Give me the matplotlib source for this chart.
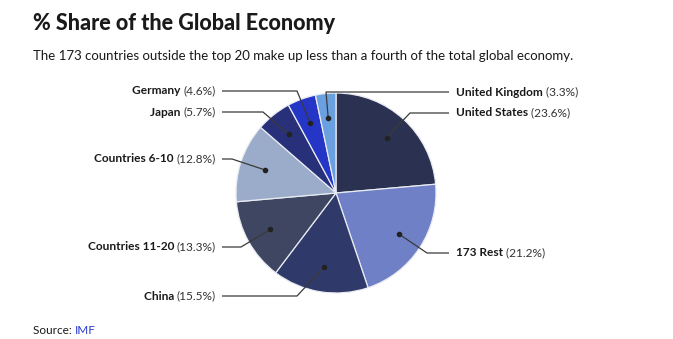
"""
plot.py

Pie chart of the share of the global economy by country group.
"""

# ========== Imports ==========
import numpy as np
import matplotlib
matplotlib.use("Agg")
import matplotlib.pyplot as plt
from matplotlib.transforms import offset_copy

# ========== Data ==========
names = ["United States", "173 Rest", "China", "Countries 11-20",
         "Countries 6-10", "Japan", "Germany", "United Kingdom"]
shares = [23.6, 21.2, 15.5, 13.3, 12.8, 5.7, 4.6, 3.3]
colors = ["#2b3150", "#6f80c6", "#2f3a6a", "#3f4662",
          "#9aacc9", "#283079", "#2535c6", "#6aa0e0"]

# label layout: (label y, elbow x) in pie units (radius = 1), side
label_y = [0.80, -0.60, -1.03, -0.54, 0.34, 0.81, 1.02, 1.01]
elbow_x = [0.74, 0.91, -0.39, -0.95, -1.04, -0.73, -0.39, -0.10]
side = ["right", "right", "left", "left", "left", "left", "left", "right"]

# ========== Figure ==========
fig = plt.figure(figsize=(6.73, 3.39), dpi=100)
ax = fig.add_axes([0, 0, 1, 1])

ax.pie(shares, colors=colors, startangle=90, counterclock=False,
       radius=1, center=(0, 0),
       wedgeprops=dict(edgecolor="#e8ebf2", linewidth=0.9))

ax.set_xlim(-3.36, 3.37)
ax.set_ylim(-1.46, 1.93)
ax.set_aspect("equal")
ax.axis("off")

font = "Lato"
fig.text(33 / 673, 1 - 30 / 339, "% Share of the Global Economy",
         fontsize=15.5, fontweight=900, family=font, color="#1a1a1a")
fig.text(33 / 673, 1 - 60 / 339,
         "The 173 countries outside the top 20 make up less than a fourth of the total global economy.",
         fontsize=9.5, family=font, color="#1a1a1a")

src = fig.text(33 / 673, 1 - 334 / 339, "Source: ", fontsize=8.5,
               family=font, color="#1a1a1a")

fig.canvas.draw()
renderer = fig.canvas.get_renderer()
w = src.get_window_extent(renderer).width
fig.text(33 / 673, 1 - 334 / 339, "IMF", fontsize=8.5, family=font,
         color="#2a3bd0",
         transform=offset_copy(fig.transFigure, fig=fig, x=w, y=0, units="dots"))

# cumulative angles, clockwise from the top
edges = np.concatenate([[0], np.cumsum(shares)])
mids = 90 - (edges[:-1] + edges[1:]) / 2 * 3.6

for i, name in enumerate(names):
    a = np.deg2rad(mids[i])
    dx, dy = 0.75 * np.cos(a), 0.75 * np.sin(a)
    ly = label_y[i]
    if side[i] == "right":
        lx_end = 1.13
        tx = 1.20
    else:
        lx_end = -1.14
        tx = -1.20
    ax.plot([dx, elbow_x[i], lx_end], [dy, ly, ly], color="#3a3a3a", lw=0.9,
            solid_capstyle="butt")
    ax.plot(dx, dy, "o", color="#222222", ms=3)

    pct = f"({shares[i]}%)"
    if side[i] == "right":
        t = ax.text(tx, ly, name, fontsize=8.6, fontweight="bold", family=font,
                    color="#1a1a1a", ha="left", va="center")
        tw = t.get_window_extent(renderer).width
        ax.text(tx, ly, " " + pct, fontsize=8.6, family=font, color="#333333",
                ha="left", va="center",
                transform=offset_copy(ax.transData, fig=fig, x=tw, y=0,
                                      units="dots"))
    else:
        t = ax.text(tx, ly, pct, fontsize=8.6, family=font, color="#333333",
                    ha="right", va="center")
        tw = t.get_window_extent(renderer).width
        ax.text(tx, ly, name + " ", fontsize=8.6, fontweight="bold",
                family=font, color="#1a1a1a", ha="right", va="center",
                transform=offset_copy(ax.transData, fig=fig, x=-tw, y=0,
                                      units="dots"))

fig.savefig("out.png", dpi=100)
